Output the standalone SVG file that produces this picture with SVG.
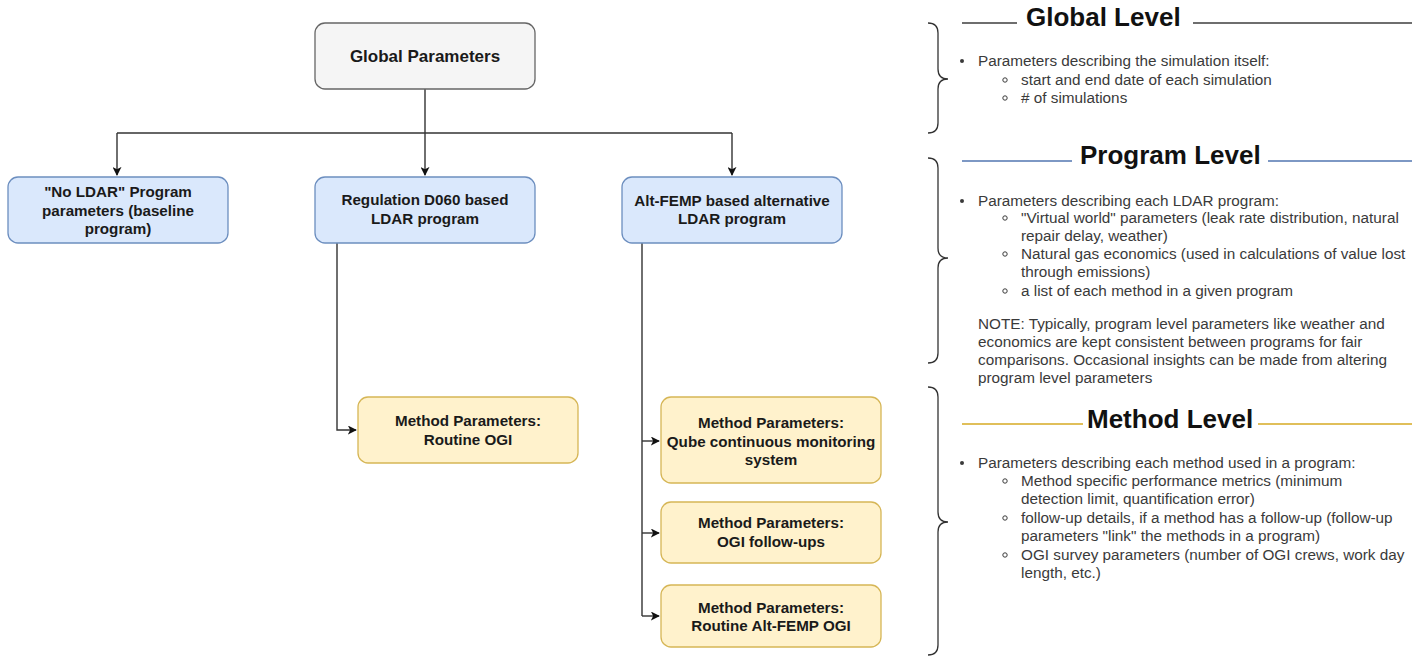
<svg xmlns="http://www.w3.org/2000/svg" width="1424" height="656" viewBox="0 0 1424 656">
<defs>
<style>
.box{stroke-width:1.3}
.g{fill:#f5f5f5;stroke:#666666}
.b{fill:#dae8fc;stroke:#6c8ebf}
.y{fill:#fff2cc;stroke:#d6b656}
.t{font-family:"Liberation Sans",Arial,sans-serif;font-weight:bold;font-size:15.2px;fill:#1a1a1a;text-anchor:middle}
.conn{fill:none;stroke:#333333;stroke-width:1.4}
.brace{fill:none;stroke:#333333;stroke-width:1.3}
.h{font-family:"Liberation Sans",Arial,sans-serif;font-weight:bold;font-size:26px;fill:#111111}
.p{font-family:"Liberation Sans",Arial,sans-serif;font-size:15.3px;fill:#3a3a3a}
.sb{fill:none;stroke:#3a3a3a;stroke-width:1}
</style>
<marker id="arr" viewBox="0 0 10 10" refX="9" refY="5" markerWidth="9" markerHeight="9" orient="auto" markerUnits="userSpaceOnUse">
<path d="M0,0 L10,5 L0,10 L2.5,5 Z" fill="#111111"/>
</marker>
</defs>
<rect width="1424" height="656" fill="#ffffff"/>

<g id="connectors">
<path class="conn" d="M425,89 V175" marker-end="url(#arr)"/>
<path class="conn" d="M117,133 H732"/>
<path class="conn" d="M117,133 V175" marker-end="url(#arr)"/>
<path class="conn" d="M732,133 V175" marker-end="url(#arr)"/>
<path class="conn" d="M337,243 V430 H356" marker-end="url(#arr)"/>
<path class="conn" d="M642,243 V616"/>
<path class="conn" d="M642,441 H659" marker-end="url(#arr)"/>
<path class="conn" d="M642,533 H659" marker-end="url(#arr)"/>
<path class="conn" d="M642,616 H659" marker-end="url(#arr)"/>
</g>

<g id="global-parameters">
<rect class="box g" x="315" y="23" width="220" height="66" rx="10"/>
<text class="t" x="425" y="62" style="font-size:17px">Global Parameters</text>
</g>

<g id="no-ldar">
<rect class="box b" x="8" y="177" width="220" height="66" rx="10"/>
<text class="t" x="118" y="197">"No LDAR" Program</text>
<text class="t" x="118" y="215.5">parameters (baseline</text>
<text class="t" x="118" y="234">program)</text>
</g>

<g id="regulation-d060">
<rect class="box b" x="315" y="177" width="220" height="66" rx="10"/>
<text class="t" x="425" y="205">Regulation D060 based</text>
<text class="t" x="425" y="224">LDAR program</text>
</g>

<g id="alt-femp">
<rect class="box b" x="622" y="177" width="220" height="66" rx="10"/>
<text class="t" x="732" y="206">Alt-FEMP based alternative</text>
<text class="t" x="732" y="224">LDAR program</text>
</g>

<g id="method-routine-ogi">
<rect class="box y" x="358" y="397" width="220" height="66" rx="10"/>
<text class="t" x="468" y="426">Method Parameters:</text>
<text class="t" x="468" y="445">Routine OGI</text>
</g>

<g id="method-qube">
<rect class="box y" x="661" y="397" width="220" height="86" rx="10"/>
<text class="t" x="771" y="428">Method Parameters:</text>
<text class="t" x="771" y="446.5">Qube continuous monitoring</text>
<text class="t" x="771" y="465">system</text>
</g>

<g id="method-ogi-followups">
<rect class="box y" x="661" y="502" width="220" height="61" rx="10"/>
<text class="t" x="771" y="528">Method Parameters:</text>
<text class="t" x="771" y="547">OGI follow-ups</text>
</g>

<g id="method-routine-alt-femp">
<rect class="box y" x="661" y="585" width="220" height="62" rx="10"/>
<text class="t" x="771" y="613">Method Parameters:</text>
<text class="t" x="771" y="631">Routine Alt-FEMP OGI</text>
</g>

<g id="global-level">
<path class="brace" d="M928,23 Q938,23 938,33 V69 Q938,79 948,79 Q938,79 938,89 V123 Q938,133 928,133"/>
<line x1="962" y1="23" x2="1017" y2="23" stroke="#6e6e6e" stroke-width="2"/>
<line x1="1193" y1="23" x2="1412" y2="23" stroke="#6e6e6e" stroke-width="2"/>
<text class="h" x="1026" y="26">Global Level</text>
<circle cx="962" cy="61" r="2" fill="#3a3a3a"/>
<text class="p" x="978" y="66">Parameters describing the simulation itself:</text>
<circle class="sb" cx="1005" cy="80" r="2.2"/>
<text class="p" x="1021" y="85">start and end date of each simulation</text>
<circle class="sb" cx="1005" cy="98" r="2.2"/>
<text class="p" x="1021" y="103"># of simulations</text>
</g>

<g id="program-level">
<path class="brace" d="M928,158 Q938,158 938,168 V248 Q938,258 948,258 Q938,258 938,268 V353 Q938,363 928,363"/>
<line x1="962" y1="161" x2="1072" y2="161" stroke="#7d98c4" stroke-width="2"/>
<line x1="1268" y1="161" x2="1412" y2="161" stroke="#7d98c4" stroke-width="2"/>
<text class="h" x="1080" y="164">Program Level</text>
<circle cx="962" cy="201" r="2" fill="#3a3a3a"/>
<text class="p" x="978" y="206">Parameters describing each LDAR program:</text>
<circle class="sb" cx="1005" cy="218" r="2.2"/>
<text class="p" x="1021" y="223">"Virtual world" parameters (leak rate distribution, natural</text>
<text class="p" x="1021" y="241">repair delay, weather)</text>
<circle class="sb" cx="1005" cy="254" r="2.2"/>
<text class="p" x="1021" y="259">Natural gas economics (used in calculations of value lost</text>
<text class="p" x="1021" y="277">through emissions)</text>
<circle class="sb" cx="1005" cy="291" r="2.2"/>
<text class="p" x="1021" y="296">a list of each method in a given program</text>
<text class="p" x="978" y="329">NOTE: Typically, program level parameters like weather and</text>
<text class="p" x="978" y="347">economics are kept consistent between programs for fair</text>
<text class="p" x="978" y="365">comparisons. Occasional insights can be made from altering</text>
<text class="p" x="978" y="383">program level parameters</text>
</g>

<g id="method-level">
<path class="brace" d="M928,387 Q938,387 938,397 V512 Q938,522 948,522 Q938,522 938,532 V645 Q938,655 928,655"/>
<line x1="962" y1="424" x2="1083" y2="424" stroke="#e0bf5a" stroke-width="2"/>
<line x1="1258" y1="424" x2="1412" y2="424" stroke="#e0bf5a" stroke-width="2"/>
<text class="h" x="1087" y="428">Method Level</text>
<circle cx="962" cy="463" r="2" fill="#3a3a3a"/>
<text class="p" x="978" y="468">Parameters describing each method used in a program:</text>
<circle class="sb" cx="1005" cy="481" r="2.2"/>
<text class="p" x="1021" y="486">Method specific performance metrics (minimum</text>
<text class="p" x="1021" y="504">detection limit, quantification error)</text>
<circle class="sb" cx="1005" cy="518" r="2.2"/>
<text class="p" x="1021" y="523">follow-up details, if a method has a follow-up (follow-up</text>
<text class="p" x="1021" y="541">parameters "link" the methods in a program)</text>
<circle class="sb" cx="1005" cy="555" r="2.2"/>
<text class="p" x="1021" y="560">OGI survey parameters (number of OGI crews, work day</text>
<text class="p" x="1021" y="578">length, etc.)</text>
</g>
</svg>
